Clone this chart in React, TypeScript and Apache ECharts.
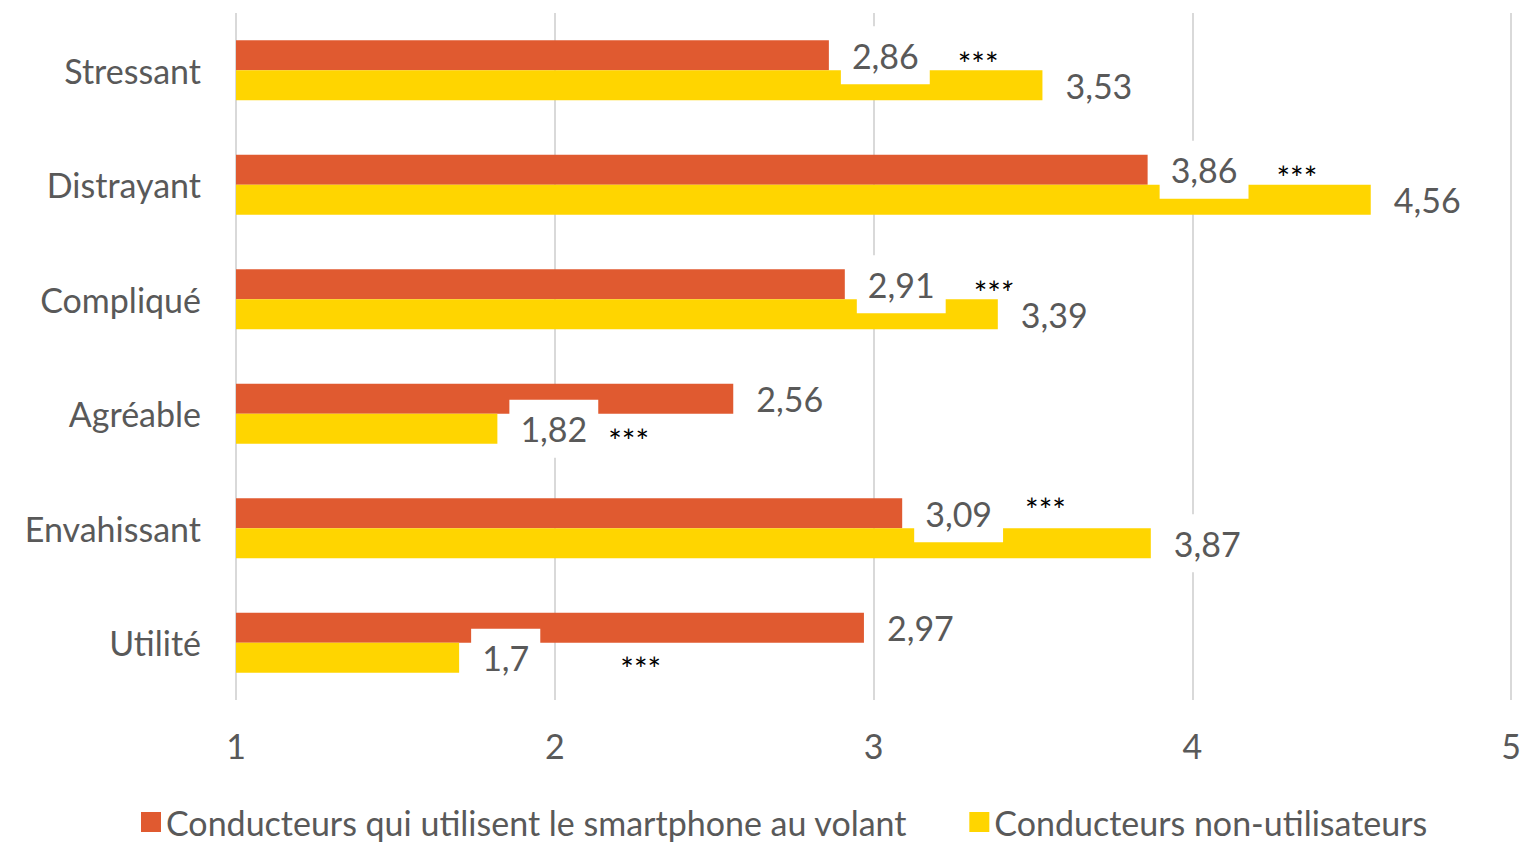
import React, { useEffect, useRef } from 'react';
import * as echarts from 'echarts';

const categories = ['Stressant', 'Distrayant', 'Compliqué', 'Agréable', 'Envahissant', 'Utilité'];
const seriesNames = ['Conducteurs qui utilisent le smartphone au volant', 'Conducteurs non-utilisateurs'];
const usersValues = [2.86, 3.86, 2.91, 2.56, 3.09, 2.97];
const nonUsersValues = [3.53, 4.56, 3.39, 1.82, 3.87, 1.7];
const significance = ['***', '***', '***', '***', '***', '***'];
// index of the series whose label carries the significance mark
const significanceOn = [0, 0, 0, 1, 0, 1];
const xTicks = [1, 2, 3, 4, 5];

// layout tweaks for the significance marks (gap after label, vertical raise)
const markGap = [28, 28, 28, 10, 22, 80];
const markRaise = [-8, -8, -8, -12, 4, -11];

const FONT = 'Lato';
const GRAY = '#595959';
const FS = 34;

const fmt = (v: number) => String(v).replace('.', ',');

function buildRich() {
  const rich: any = {
    v: {
      backgroundColor: '#ffffff',
      padding: [12, 11, 12, 11],
      fontSize: FS,
      color: GRAY,
      fontFamily: FONT,
      verticalAlign: 'middle',
    },
  };
  categories.forEach((_, j) => {
    rich['g' + j] = { width: markGap[j], verticalAlign: 'middle' };
    const r = markRaise[j];
    rich['s' + j] = {
      fontSize: 32,
      color: '#000000',
      fontFamily: FONT,
      verticalAlign: 'middle',
      padding: r >= 0 ? [0, 0, 2 * r, 0] : [-2 * r, 0, 0, 0],
    };
  });
  return rich;
}

function makeSeries(name: string, values: number[], idx: number, color: string) {
  return {
    name,
    type: 'bar',
    barWidth: 30,
    barGap: '0%',
    itemStyle: { color },
    data: values,
    label: {
      show: true,
      position: 'right',
      distance: 12,
      formatter: (p: any) => {
        const j = p.dataIndex;
        let s = '{v|' + fmt(values[j]) + '}';
        if (significanceOn[j] === idx && significance[j]) {
          s += '{g' + j + '|}{s' + j + '|' + significance[j] + '}';
        }
        return s;
      },
      rich: buildRich(),
    },
  };
}

export default function App() {
  const ref = useRef<HTMLDivElement>(null);
  useEffect(() => {
    if (!ref.current) return;
    const chart = echarts.init(ref.current, undefined, { renderer: 'svg' });
    chart.setOption({
      animation: false,
      backgroundColor: '#ffffff',
      textStyle: { fontFamily: FONT },
      grid: { left: 236, right: 14, top: 13, bottom: 142, containLabel: false },
      legend: {
        data: seriesNames,
        left: 136,
        top: 800,
        icon: 'rect',
        itemWidth: 20,
        itemHeight: 20,
        itemGap: 62,
        textStyle: { fontSize: FS, color: GRAY, fontFamily: FONT },
      },
      xAxis: {
        type: 'value',
        min: xTicks[0],
        max: xTicks[xTicks.length - 1],
        interval: 1,
        axisLine: { show: false },
        axisTick: { show: false },
        splitLine: { show: true, lineStyle: { color: '#d9d9d9', width: 2 } },
        axisLabel: { fontSize: FS, color: GRAY, fontFamily: FONT, margin: 28 },
      },
      yAxis: {
        type: 'category',
        data: categories,
        inverse: true,
        axisLine: { show: false },
        axisTick: { show: false },
        axisLabel: { fontSize: FS, color: GRAY, fontFamily: FONT, margin: 35 },
      },
      series: [
        makeSeries(seriesNames[0], usersValues, 0, '#e05a30'),
        makeSeries(seriesNames[1], nonUsersValues, 1, '#ffd500'),
      ],
    });
    return () => chart.dispose();
  }, []);
  return (
    <div
      ref={ref}
      style={{ position: 'absolute', left: 0, top: 0, width: 1525, height: 842, background: '#fff' }}
    />
  );
}
